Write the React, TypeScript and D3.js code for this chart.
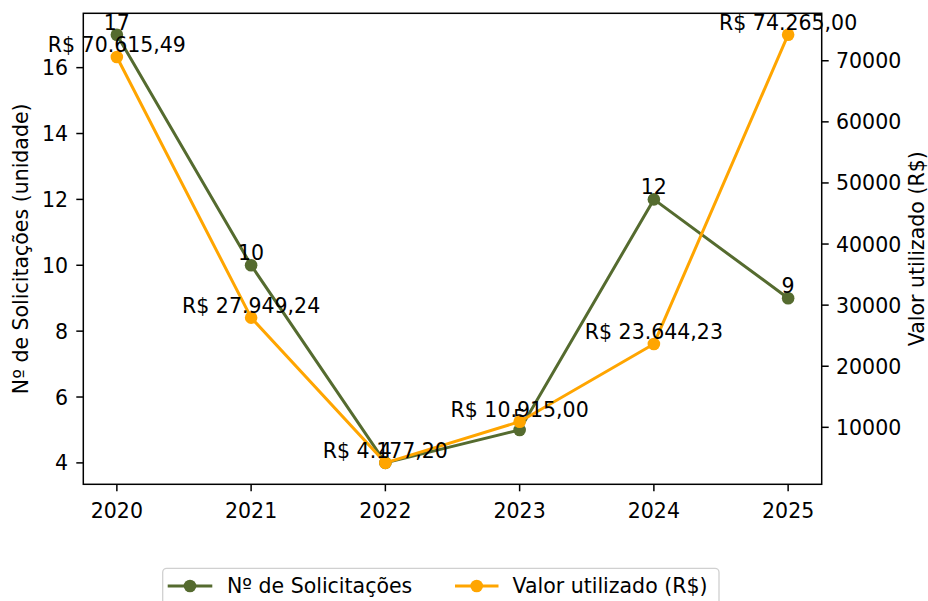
import React from "react";
import * as d3 from "d3";

const years = [2020, 2021, 2022, 2023, 2024, 2025];
const solicitacoes = [17, 10, 4, 5, 12, 9];
const valores = [70615.49, 27949.24, 4177.2, 10915.0, 23644.23, 74265.0];
const leftTicks = [4, 6, 8, 10, 12, 14, 16];
const rightTicks = [10000, 20000, 30000, 40000, 50000, 60000, 70000];
const leftLabel = "Nº de Solicitações (unidade)";
const rightLabel = "Valor utilizado (R$)";
const seriesNames = ["Nº de Solicitações", "Valor utilizado (R$)"];

const GREEN = "#556B2F";
const ORANGE = "#FFA500";
const FONT = "DejaVu Sans, sans-serif";
const FS = 20.5;

const W = 928, H = 601;
const L = 83.3, R = 821.7, T = 13.3, B = 484.3;

const locale = d3.formatLocale({ decimal: ",", thousands: ".", grouping: [3], currency: ["R$ ", ""] });
const brl = locale.format("$,.2f");

function padDomain([a, b]: [number, number]): [number, number] {
  const m = (b - a) * 0.05;
  return [a - m, b + m];
}

export default function App() {
  const x = d3.scaleLinear().domain(padDomain([years[0], years[years.length - 1]])).range([L, R]);
  const yL = d3.scaleLinear().domain(padDomain(d3.extent(solicitacoes) as [number, number])).range([B, T]);
  const yR = d3.scaleLinear().domain(padDomain(d3.extent(valores) as [number, number])).range([B, T]);

  const lineL = d3.line<number>().x((_, i) => x(years[i])).y((d) => yL(d));
  const lineR = d3.line<number>().x((_, i) => x(years[i])).y((d) => yR(d));

  const tickLen = 7;

  return (
    <svg width={W} height={H} style={{ position: "absolute", left: 0, top: 0, background: "#fff" }} fontFamily={FONT}>
      <rect width={W} height={H} fill="#fff" />
      {/* Green series */}
      <path d={lineL(solicitacoes) || ""} fill="none" stroke={GREEN} strokeWidth={3} />
      {solicitacoes.map((d, i) => (
        <circle key={"g" + i} cx={x(years[i])} cy={yL(d)} r={6.3} fill={GREEN} />
      ))}
      {solicitacoes.map((d, i) => (
        <text key={"gt" + i} x={x(years[i])} y={yL(d) - 5} textAnchor="middle" fontSize={FS} fill="#000">
          {d}
        </text>
      ))}
      {/* Orange series */}
      <path d={lineR(valores) || ""} fill="none" stroke={ORANGE} strokeWidth={3} />
      {valores.map((d, i) => (
        <circle key={"o" + i} cx={x(years[i])} cy={yR(d)} r={6.3} fill={ORANGE} />
      ))}
      {valores.map((d, i) => (
        <text key={"ot" + i} x={x(years[i])} y={yR(d) - 5} textAnchor="middle" fontSize={FS} fill="#000">
          {brl(d)}
        </text>
      ))}

      {/* Spines */}
      <rect x={L} y={T} width={R - L} height={B - T} fill="none" stroke="#000" strokeWidth={1.5} />

      {/* X ticks */}
      {years.map((yr) => (
        <g key={"x" + yr}>
          <line x1={x(yr)} x2={x(yr)} y1={B} y2={B + tickLen} stroke="#000" strokeWidth={1.5} />
          <text x={x(yr)} y={517.5} textAnchor="middle" fontSize={FS} fill="#000">
            {yr}
          </text>
        </g>
      ))}
      {/* Left ticks */}
      {leftTicks.map((t) => (
        <g key={"l" + t}>
          <line x1={L - tickLen} x2={L} y1={yL(t)} y2={yL(t)} stroke="#000" strokeWidth={1.5} />
          <text x={68} y={yL(t) + 7.5} textAnchor="end" fontSize={FS} fill="#000">
            {t}
          </text>
        </g>
      ))}
      {/* Right ticks */}
      {rightTicks.map((t) => (
        <g key={"r" + t}>
          <line x1={R} x2={R + tickLen} y1={yR(t)} y2={yR(t)} stroke="#000" strokeWidth={1.5} />
          <text x={836} y={yR(t) + 7.5} textAnchor="start" fontSize={FS} fill="#000">
            {t}
          </text>
        </g>
      ))}
      {/* Axis labels */}
      <text transform={`translate(27.5, ${(T + B) / 2}) rotate(-90)`} textAnchor="middle" fontSize={FS} fill="#000">
        {leftLabel}
      </text>
      <text transform={`translate(924, ${(T + B) / 2}) rotate(-90)`} textAnchor="middle" fontSize={FS} fill="#000">
        {rightLabel}
      </text>

      {/* Legend */}
      <rect x={162.7} y={568.3} width={556.3} height={50} rx={4} fill="#fff" fillOpacity={0.8} stroke="#d0d0d0" strokeWidth={1.3} />
      <line x1={167.7} x2={212.3} y1={586} y2={586} stroke={GREEN} strokeWidth={3} />
      <circle cx={190} cy={586} r={6.3} fill={GREEN} />
      <text x={227} y={592.5} fontSize={FS} fill="#000">{seriesNames[0]}</text>
      <line x1={455} x2={498.5} y1={586} y2={586} stroke={ORANGE} strokeWidth={3} />
      <circle cx={476.7} cy={586} r={6.3} fill={ORANGE} />
      <text x={512.5} y={592.5} fontSize={FS} fill="#000">{seriesNames[1]}</text>
    </svg>
  );
}
